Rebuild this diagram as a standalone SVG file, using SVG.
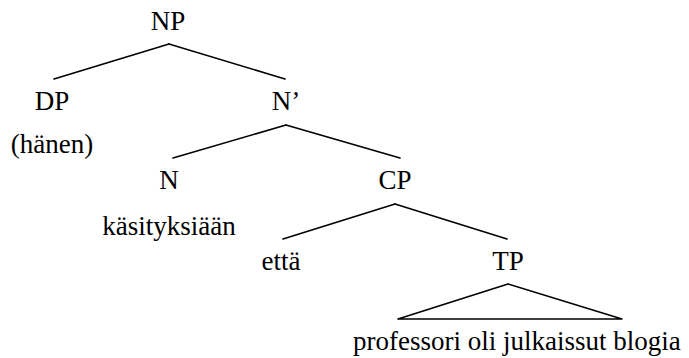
<svg xmlns="http://www.w3.org/2000/svg" width="689" height="358" viewBox="0 0 689 358">
<style>
text{font-family:"Liberation Serif","Times New Roman",serif;font-size:27px;fill:#000;text-anchor:middle}
line{stroke:#000;stroke-width:1.6;stroke-linecap:round}
</style>
<rect width="689" height="358" fill="#fff"/>
<g id="connectors">
<line x1="169" y1="44" x2="54" y2="79"/>
<line x1="169" y1="44" x2="285" y2="79"/>
<line x1="286" y1="125" x2="173" y2="158"/>
<line x1="286" y1="125" x2="400" y2="158"/>
<line x1="395" y1="204" x2="283" y2="239"/>
<line x1="395" y1="204" x2="507" y2="239"/>
<polygon points="508,284 398,319 622,319" fill="none" stroke="#000" stroke-width="1.6" stroke-linejoin="round"/>
</g>
<g id="NP"><text x="168" y="30">NP</text></g>
<g id="DP"><text x="52" y="110">DP</text><text x="52" y="153">(hänen)</text></g>
<g id="Nbar"><text x="286" y="110">N’</text></g>
<g id="N"><text x="169" y="189">N</text><text x="169" y="235">käsityksiään</text></g>
<g id="CP"><text x="395" y="189">CP</text></g>
<g id="C"><text x="281" y="270">että</text></g>
<g id="TP"><text x="508" y="270">TP</text><text x="353" y="350" style="text-anchor:start">professori oli julkaissut blogia</text></g>
</svg>
